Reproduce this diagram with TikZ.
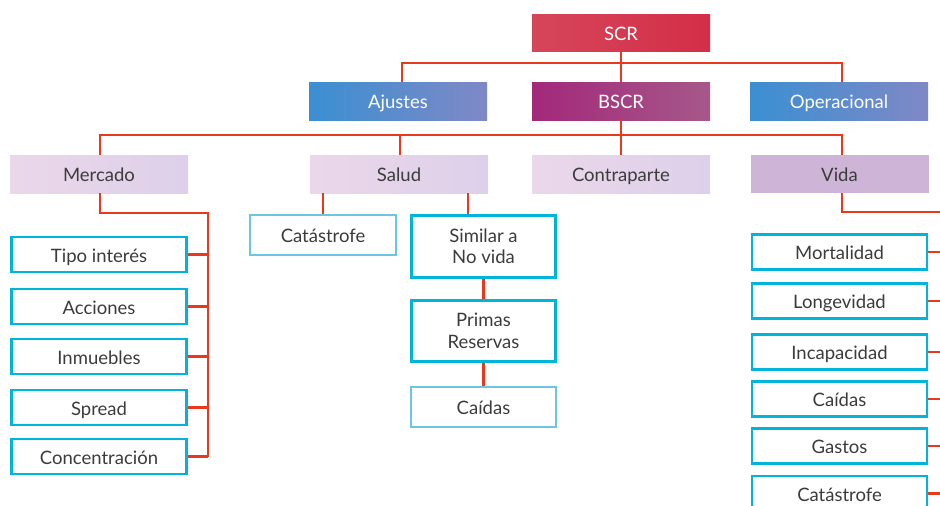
\documentclass[tikz,border=0pt]{standalone}
\usepackage{fontspec}
\setmainfont{Lato}
\usetikzlibrary{positioning}

\definecolor{txtgray}{HTML}{3C3C3C}
\definecolor{linered}{HTML}{E8391D}
\definecolor{boxcyan}{HTML}{00B5D9}
\definecolor{palecyan}{HTML}{6CC5E3}

\tikzset{
  box/.style={rectangle, minimum width=178pt, minimum height=38pt, inner sep=0pt,
    align=center, text=txtgray, font=\fontsize{18.5}{21.5}\selectfont,
    text height=17pt, text depth=2pt},
  tworow/.style={text height=, text depth=},
  redbox/.style={box, text=white, left color={rgb,255:red,213;green,70;blue,90}, right color={rgb,255:red,212;green,46;blue,72}},
  bluebox/.style={box, text=white, left color={rgb,255:red,58;green,143;blue,210}, right color={rgb,255:red,128;green,136;blue,198}},
  plumbox/.style={box, text=white, left color={rgb,255:red,163;green,40;blue,122}, right color={rgb,255:red,166;green,88;blue,138}},
  palebox/.style={box, left color={rgb,255:red,235;green,215;blue,234}, right color={rgb,255:red,221;green,208;blue,234}},
  vidabox/.style={box, fill={rgb,255:red,206;green,181;blue,216}},
  riskbox/.style={box, draw=boxcyan, line width=2.8pt, fill=white, minimum width=175pt, minimum height=35pt},
  lightbox/.style={riskbox, draw=palecyan, line width=2.2pt},
  link/.style={draw=linered, line width=2.4pt}
}

\begin{document}
\begin{tikzpicture}[x=1pt, y=-1pt]
  \useasboundingbox (0,0) rectangle (940,506);
  \clip (0,0) rectangle (940,506);

  % top levels
  \node[redbox, minimum height=37pt] (scr) at (621,32.5) {SCR};
  \node[bluebox] (ajustes) at (398,101) {Ajustes};
  \node[plumbox] (bscr) at (621,101) {BSCR};
  \node[bluebox] (operacional) at (839,101) {Operacional};

  \node[palebox] (mercado) at (99,174) {Mercado};
  \node[palebox] (salud) at (399,174) {Salud};
  \node[palebox] (contraparte) at (621,174) {Contraparte};
  \node[vidabox] (vida) at (839.5,174) {Vida};

  \coordinate (topbus) at (621,63);
  \coordinate (midbus) at (621,135);
  \coordinate (mbus) at (208,213);
  \coordinate (vbus) at (946,212);

  % mercado
  \foreach[count=\i] \y/\txt in {254.5/Tipo interés, 306.5/Acciones, 356.5/Inmuebles,
      407.5/Spread, 456.5/Concentración}
    \node[riskbox] (m\i) at (99,\y) {\txt};

  % salud
  \node[lightbox, minimum width=146pt, minimum height=40pt] (scat) at (323,235) {Catástrofe};
  \node[riskbox, tworow, minimum width=144pt, minimum height=62pt] (ssim) at (483.5,246.5) {Similar a\\No vida};
  \node[riskbox, tworow, minimum width=144pt, minimum height=61pt] (sprim) at (483.5,331) {Primas\\Reservas};
  \node[lightbox, minimum width=145pt, minimum height=40pt] (scaid) at (483.5,407) {Caídas};

  % vida
  \foreach[count=\i] \y/\txt in {252/Mortalidad, 301/Longevidad, 352/Incapacidad,
      399/Caídas, 446/Gastos, 493.5/Catástrofe}
    \node[riskbox] (v\i) at (839.5,\y) {\txt};

  % connectors
  \draw[link] (scr.south) -- (topbus);
  \draw[link] ([xshift=4pt]ajustes.north) |- (topbus) -| ([xshift=3pt]operacional.north);
  \draw[link] (topbus) -- (bscr.north);
  \draw[link] (bscr.south) -- (contraparte.north);
  \draw[link] ([xshift=1pt]mercado.north) |- (midbus) -| ([xshift=2.5pt]vida.north);
  \draw[link] ([xshift=1pt]salud.north) -- ([xshift=1pt]salud.north |- midbus);

  \draw[link] ([xshift=1pt]mercado.south) |- (mbus) -- (mbus |- m5.east);
  \foreach \i in {1,...,5}
    \draw[link] (m\i.east) -- (m\i.east -| mbus);

  \draw[link] ([xshift=2.5pt]vida.south) |- (vbus) -- (vbus |- v6.east);
  \foreach \i in {1,...,6}
    \draw[link] (v\i.east) -- (v\i.east -| vbus);

  \draw[link] (scat.north) -- (scat.north |- salud.south);
  \draw[link] ([xshift=-15.5pt]ssim.north) -- ([xshift=-15.5pt]ssim.north |- salud.south);
  \draw[link] (ssim.south) -- (sprim.north);
  \draw[link] (sprim.south) -- (scaid.north);
\end{tikzpicture}
\end{document}
